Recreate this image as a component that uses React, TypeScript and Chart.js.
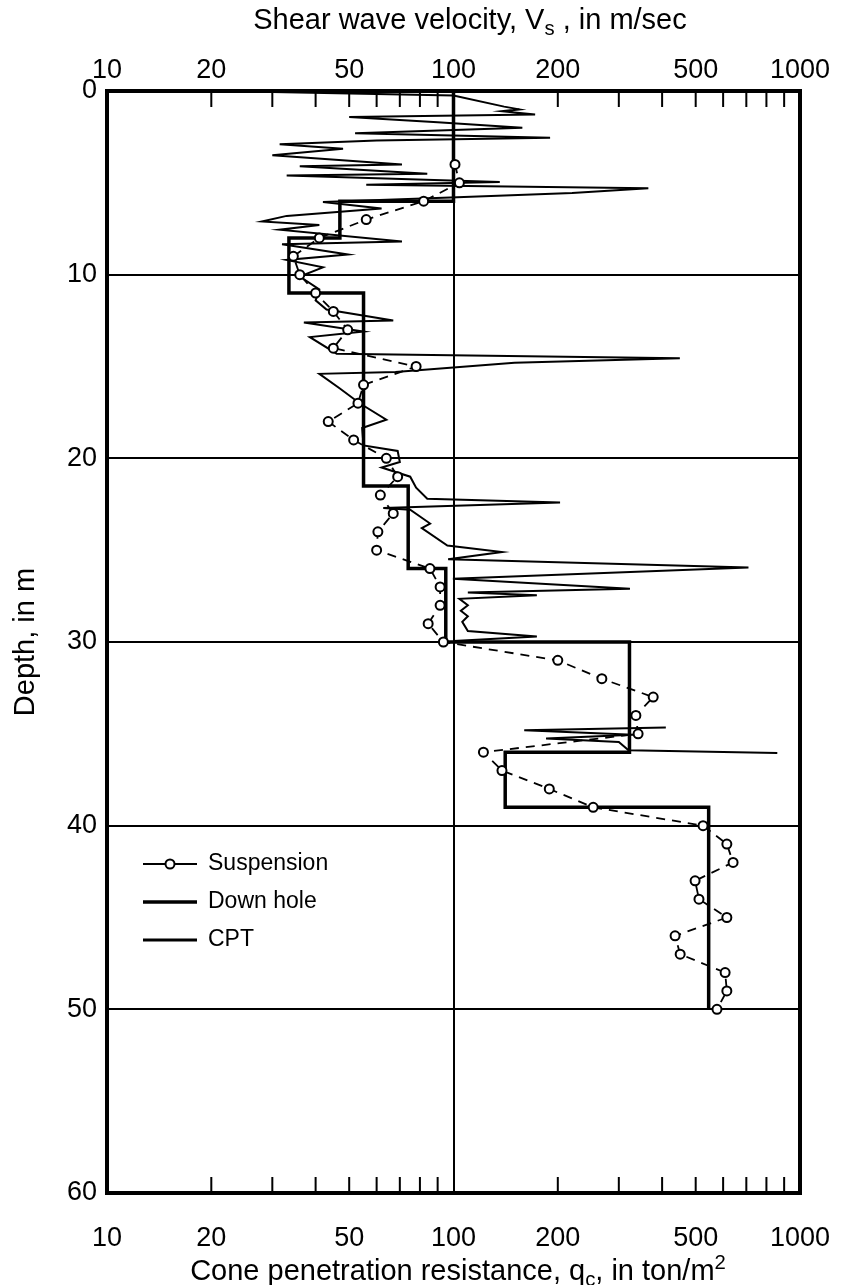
import React, { useEffect, useRef } from "react";
import { Chart, registerables } from "chart.js";

Chart.register(...registerables);

const FONT = '"Liberation Sans", Arial, Helvetica, sans-serif';

// ---- Suspension (Vs, m/sec) ----
const suspensionDepth = [
  4, 5, 6, 7, 8, 9, 10, 11, 12, 13, 14, 15, 16, 17, 18, 19, 20, 21, 22, 23, 24, 25, 26, 27,
  28, 29, 30, 31, 32, 33, 34, 35, 36, 37, 38, 39, 40, 41, 42, 43, 44, 45, 46, 47, 48, 49, 50,
];
const suspensionVs = [
  101, 104, 82, 56, 41, 34.5, 36, 40, 45, 49.5, 45, 78, 55, 53, 43.5, 51.5, 64, 69, 61.5, 67,
  60.5, 60, 85.5, 91.5, 91.5, 84.5, 93.5, 200, 268, 377, 336, 341, 122, 138, 189, 253, 525,
  615, 641, 498, 511, 615, 436, 451, 608, 615, 576,
];

// ---- Down hole layers (Vs, m/sec) ----
const downHoleTop = [0, 6, 8, 11, 21.5, 26, 30, 36, 39];
const downHoleBottom = [6, 8, 11, 21.5, 26, 30, 36, 39, 50];
const downHoleVs = [100, 47, 33.5, 55, 74, 95, 322, 141, 545];

// ---- CPT (qc, ton/m2), upper run ----
const cptDepthA = [
  0.05, 0.25, 0.85, 1.0, 1.1, 1.28, 1.42, 1.7, 2.0, 2.3,
  2.55, 2.7, 2.9, 3.15, 3.5, 4.0, 4.1, 4.5, 4.6, 4.95,
  5.1, 5.3, 5.55, 5.8, 6.05, 6.4, 6.8, 7.1, 7.3, 7.55,
  8.2, 8.35, 8.9, 9.2, 9.6, 10.1, 10.8, 11.4, 11.9, 12.5,
  12.6, 13.1, 13.4, 14.3, 14.55, 14.8, 15.3, 15.4, 16.2, 17.0,
  17.9, 18.35, 19.3, 19.6, 20.2, 20.5, 21.0, 21.6, 22.2, 22.4,
  22.7, 22.8, 23.55, 23.8, 24.75, 25.1, 25.5, 25.95, 26.55, 27.1,
  27.3, 27.45, 27.65, 28.0, 28.3, 28.6, 28.9, 29.4, 29.7, 29.95,
];
const cptQcA = [
  30, 100, 140, 155, 138, 172, 50, 90, 158, 52,
  190, 60, 31.5, 48, 30, 71, 36, 84, 33, 136,
  56, 365, 220, 98, 42, 62, 33, 28, 41, 31.5,
  71, 32, 49.6, 33, 42, 36, 41, 40, 43, 67,
  37, 55, 38.5, 46, 450, 150, 68, 41, 47, 53.6,
  64, 54.5, 55, 69, 70, 62, 75, 78, 84, 203,
  62.7, 75, 85.6, 81, 96, 138, 96.5, 710, 99.6, 323,
  110, 174, 104, 110, 105, 110, 106, 110, 174, 100,
];
// ---- CPT, lower run ----
const cptDepthB = [34.65, 34.8, 35.05, 35.25, 35.45, 35.9, 36.05];
const cptQcB = [410, 160, 330, 185, 300, 320, 860];

// ---- axes ----
const xTickValues = [10, 20, 30, 40, 50, 60, 70, 80, 90, 100, 200, 300, 400, 500, 600, 700, 800, 900, 1000];
const xTickLabels = [10, 20, 50, 100, 200, 500, 1000];
const depthTicks = [0, 10, 20, 30, 40, 50, 60];

const legendItems = ["Suspension", "Down hole", "CPT"];

const CHART_LEFT = 107;
const CHART_RIGHT_PAD = 48;
const CHART_TOP = 91;
const CHART_BOTTOM = 1193;
const H = 1285;
const W = 848;

function pts(xs: number[], ys: number[]) {
  return xs.map((x, i) => ({ x, y: ys[i] }));
}

function downHolePoints() {
  const out: { x: number; y: number }[] = [];
  downHoleVs.forEach((v, i) => {
    out.push({ x: v, y: downHoleTop[i] });
    out.push({ x: v, y: downHoleBottom[i] });
  });
  return out;
}

const decorPlugin = {
  id: "decor",
  afterDatasetsDraw(chart: any) {
    const { ctx, chartArea: a, scales } = chart;
    const xs = scales.x;
    ctx.save();
    ctx.strokeStyle = "#000";
    ctx.fillStyle = "#000";
    // inward minor ticks on top and bottom
    ctx.lineWidth = 2;
    const tickLen = 16;
    xTickValues
      .filter((v) => v !== 10 && v !== 100 && v !== 1000)
      .forEach((v) => {
        const px = xs.getPixelForValue(v);
        ctx.beginPath();
        ctx.moveTo(px, a.top);
        ctx.lineTo(px, a.top + tickLen);
        ctx.moveTo(px, a.bottom);
        ctx.lineTo(px, a.bottom - tickLen);
        ctx.stroke();
      });
    // frame
    ctx.lineWidth = 4;
    ctx.strokeRect(a.left, a.top, a.right - a.left, a.bottom - a.top);

    // legend
    const lx0 = a.left + 36;
    const lx1 = a.left + 90;
    const tx = a.left + 101;
    const rows = [864, 902, 940];
    ctx.font = "23px " + FONT;
    ctx.textBaseline = "middle";
    ctx.textAlign = "left";
    rows.forEach((y, i) => {
      ctx.beginPath();
      ctx.lineWidth = i === 0 ? 1.8 : i === 1 ? 3.5 : 3;
      ctx.moveTo(lx0, y);
      ctx.lineTo(lx1, y);
      ctx.stroke();
      if (i === 0) {
        ctx.beginPath();
        ctx.lineWidth = 2;
        ctx.fillStyle = "#fff";
        ctx.arc((lx0 + lx1) / 2, y, 4.5, 0, Math.PI * 2);
        ctx.fill();
        ctx.stroke();
        ctx.fillStyle = "#000";
      }
      ctx.fillText(legendItems[i], tx, y);
    });
    ctx.restore();
  },
};

export default function App() {
  const ref = useRef<HTMLCanvasElement | null>(null);

  useEffect(() => {
    if (!ref.current) return;
    const tickFont = { family: FONT, size: 27 };
    const chart = new Chart(ref.current, {
      type: "scatter",
      data: {
        datasets: [
          {
            label: "Suspension",
            data: pts(suspensionVs, suspensionDepth),
            showLine: true,
            borderColor: "#000",
            borderWidth: 1.8,
            borderDash: [9, 7],
            pointRadius: 4.5,
            pointBorderWidth: 2,
            pointBackgroundColor: "#fff",
            pointBorderColor: "#000",
          },
          {
            label: "Down hole",
            data: downHolePoints(),
            showLine: true,
            borderColor: "#000",
            borderWidth: 3.5,
            pointRadius: 0,
          },
          {
            label: "CPT",
            data: pts(cptQcA, cptDepthA),
            showLine: true,
            borderColor: "#000",
            borderWidth: 2,
            pointRadius: 0,
          },
          {
            label: "CPT (lower)",
            data: pts(cptQcB, cptDepthB),
            showLine: true,
            borderColor: "#000",
            borderWidth: 2,
            pointRadius: 0,
          },
        ],
      },
      options: {
        responsive: false,
        animation: false,
        devicePixelRatio: 1,
        layout: { padding: { left: 0, right: CHART_RIGHT_PAD, top: 0, bottom: 0 } },
        plugins: { legend: { display: false }, tooltip: { enabled: false } },
        scales: {
          x: {
            type: "logarithmic",
            position: "bottom",
            min: 10,
            max: 1000,
            afterBuildTicks: (s: any) => {
              s.ticks = xTickValues.map((v) => ({ value: v }));
            },
            afterFit: (s: any) => {
              s.height = H - CHART_BOTTOM;
              s.paddingLeft = 0;
              s.paddingRight = 0;
            },
            ticks: {
              autoSkip: false,
              maxRotation: 0,
              color: "#000",
              font: tickFont,
              padding: 29,
              callback: (v: any) => (xTickLabels.includes(Number(v)) ? String(v) : ""),
            },
            border: { display: false },
            grid: {
              drawTicks: false,
              lineWidth: 2,
              color: (c: any) => (c.tick && c.tick.value === 100 ? "#000" : "rgba(0,0,0,0)"),
            },
          },
          x2: {
            type: "logarithmic",
            axis: "x",
            position: "top",
            min: 10,
            max: 1000,
            afterBuildTicks: (s: any) => {
              s.ticks = xTickValues.map((v) => ({ value: v }));
            },
            afterFit: (s: any) => {
              s.height = CHART_TOP;
              s.paddingLeft = 0;
              s.paddingRight = 0;
            },
            ticks: {
              autoSkip: false,
              maxRotation: 0,
              color: "#000",
              font: tickFont,
              padding: 4,
              callback: (v: any) => (xTickLabels.includes(Number(v)) ? String(v) : ""),
            },
            border: { display: false },
            grid: { display: false, drawTicks: false },
          },
          y: {
            type: "linear",
            reverse: true,
            min: 0,
            max: 60,
            afterBuildTicks: (s: any) => {
              s.ticks = depthTicks.map((v) => ({ value: v }));
            },
            afterFit: (s: any) => {
              s.width = CHART_LEFT;
              s.paddingTop = 0;
              s.paddingBottom = 0;
            },
            ticks: { color: "#000", font: tickFont, padding: 10 },
            border: { display: false },
            grid: {
              drawTicks: false,
              lineWidth: 2,
              color: (c: any) =>
                c.tick && c.tick.value > 0 && c.tick.value < 60 ? "#000" : "rgba(0,0,0,0)",
            },
            title: {
              display: true,
              text: "Depth, in m",
              color: "#000",
              font: { family: FONT, size: 29 },
              padding: { top: 9, bottom: 0 },
            },
          },
        },
      } as any,
      plugins: [decorPlugin],
    });
    return () => chart.destroy();
  }, []);

  const titleStyle: React.CSSProperties = {
    position: "absolute",
    width: 700,
    textAlign: "center",
    fontFamily: FONT,
    fontSize: 29,
    lineHeight: "34px",
    color: "#000",
    whiteSpace: "nowrap",
  };

  return (
    <div style={{ position: "absolute", left: 0, top: 0, width: W, height: H, background: "#fff" }}>
      <canvas ref={ref} width={W} height={H} style={{ display: "block" }} />
      <div style={{ ...titleStyle, left: 470 - 350, top: 2 }}>
        Shear wave velocity, V<sub style={{ fontSize: "0.7em", verticalAlign: "-0.3em" }}>s</sub> , in m/sec
      </div>
      <div style={{ ...titleStyle, left: 458 - 350, top: 1245 }}>
        Cone penetration resistance, q<sub style={{ fontSize: "0.7em", verticalAlign: "-0.3em" }}>c</sub>, in ton/m
        <sup style={{ fontSize: "0.7em", verticalAlign: "0.55em" }}>2</sup>
      </div>
    </div>
  );
}
